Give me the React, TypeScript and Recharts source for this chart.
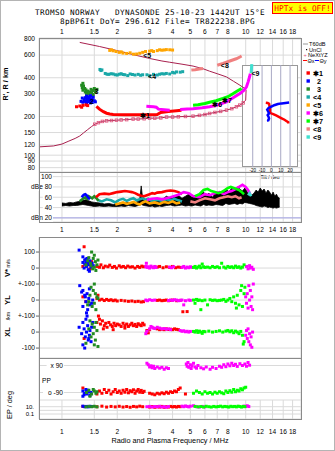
import { Area, CartesianGrid, ComposedChart, Line, ReferenceLine, Scatter, XAxis, YAxis } from "recharts";

type Pt = [number, number];

const freqTicks = [1, 1.5, 2, 3, 4, 5, 6, 7, 8, 10, 12, 14, 16, 18];
const heightTicks = [80, 90, 100, 120, 150, 200, 300, 400, 600, 800];
const dbTicks = [20, 40, 60, 80, 100];
const dbLabels: Record<string, string> = { "20": "dBn 20", "40": "40", "60": "60", "80": "dBe 80", "100": "100" };
const velTicks = [100, 0, -100, -200, -300, -400, -500];
const velLabels: Record<string, string> = { "100": "100", "0": "0", "-100": "+-100", "-200": "0", "-300": "+-100", "-400": "0", "-500": "-100" };
const ppTicks = [90, -90];
const ppLabels: Record<string, string> = { "90": "x 90", "-90": "o -90" };
const epTicks = [10, 1, 0.1];
const epLabels: Record<string, string> = { "10": "10.", "1": "", "0.1": "0.1" };
const tiltTicks = [-20, -10, 0, 10, 20];

const col = {
  red: "#ff0000", blue: "#0000ff", green: "#228b22", teal: "#1aa8a8", orange: "#ffa500",
  magenta: "#ff00ff", lime: "#00ff00", salmon: "#f08080", cyan: "#40e0d0", maroon: "#a8204e",
};

// ---- height panel (f MHz, h km)
const upperModel: Pt[] = [[1.25, 753], [1.6, 700], [2.0, 650], [2.5, 600], [3.0, 565], [3.5, 540], [3.86, 528], [4.5, 510], [5.17, 493], [5.86, 470], [6.36, 450], [7.0, 430], [7.86, 406], [8.6, 375], [9.3, 350], [9.88, 330], [10.05, 320]];
const profile: Pt[] = [[0.75, 116], [0.9, 118], [1.0, 122], [1.08, 128], [1.18, 135], [1.25, 141], [1.31, 149], [1.38, 158], [1.45, 167], [1.51, 174], [1.58, 179], [1.66, 183], [1.75, 185], [1.86, 186], [1.98, 187], [2.1, 188], [2.25, 189], [2.44, 191], [2.6, 191], [2.8, 192], [3.0, 194], [3.2, 194], [3.45, 195], [3.71, 198], [4.0, 198], [4.3, 199], [4.7, 200], [5.17, 201], [5.6, 204], [6.0, 207], [6.36, 211], [6.8, 215], [7.3, 219], [7.86, 224], [8.4, 230], [8.9, 238], [9.3, 245], [9.7, 255], [10.0, 268], [10.05, 320]];
const trace1: Pt[] = [[1.54, 240], [1.6, 228], [1.68, 218], [1.75, 212], [1.82, 209], [1.9, 207], [2.2, 206], [2.6, 206], [3.0, 206], [3.3, 207], [3.45, 215], [3.8, 219], [4.2, 222], [4.47, 224]];
const trace1Early: Pt[] = [[1.2, 238], [1.25, 241], [1.3, 244], [1.35, 246], [1.38, 243], [1.28, 236]];
const trace2: Pt[] = [[1.27, 262], [1.3, 258], [1.32, 270], [1.34, 280], [1.35, 265], [1.36, 256], [1.37, 274], [1.38, 285], [1.39, 268], [1.4, 260], [1.41, 278], [1.42, 270], [1.43, 290], [1.44, 262], [1.45, 275], [1.46, 257], [1.47, 268], [1.48, 282], [1.33, 262], [1.36, 288], [1.4, 272], [1.5, 265], [1.43, 255], [1.29, 278], [1.52, 260]];
const trace3: Pt[] = [[1.28, 350], [1.29, 335], [1.3, 320], [1.31, 345], [1.33, 330], [1.34, 310], [1.35, 322], [1.37, 305], [1.38, 315], [1.4, 300], [1.42, 310], [1.44, 325], [1.45, 305], [1.47, 318], [1.5, 330], [1.52, 312], [1.55, 325], [1.3, 362], [1.36, 298], [1.48, 296]];
const trace4: Pt[] = [[1.61, 464], [1.63, 455], [1.65, 460], [1.72, 432], [1.76, 426], [1.8, 425], [1.85, 430], [1.9, 428], [1.95, 422], [2.0, 420], [2.05, 426], [2.1, 430], [2.15, 424], [2.2, 422], [2.28, 416], [2.35, 428], [2.42, 424], [2.5, 420], [2.6, 425], [2.68, 418], [2.75, 422], [2.9, 422], [3.0, 415], [3.15, 425], [3.3, 420], [3.4, 426], [3.5, 430], [3.6, 428], [3.7, 432], [3.86, 428], [4.0, 440], [4.1, 436], [4.2, 444], [4.4, 442], [4.54, 446]];
const trace5: Pt[] = [[1.82, 653], [1.86, 660], [1.9, 648], [1.97, 640], [2.05, 630], [2.1, 636], [2.15, 622], [2.25, 618], [2.35, 625], [2.45, 610], [2.55, 612], [2.65, 620], [2.75, 630], [2.85, 640], [3.0, 644], [3.08, 650], [3.15, 640], [3.3, 650], [3.4, 660], [3.5, 655], [3.6, 658], [3.7, 662], [3.86, 660], [4.0, 657]];
const trace6a: Pt[] = [[2.88, 240], [3.0, 239], [3.15, 238], [3.26, 236], [3.35, 228], [3.6, 226], [3.86, 224]];
const trace6b: Pt[] = [[4.4, 227], [4.8, 229], [5.17, 230], [5.8, 234], [6.36, 238], [7.0, 245], [7.86, 260], [8.5, 278], [9.3, 302], [9.8, 320], [10.1, 340], [10.3, 370], [10.5, 407], [10.6, 430]];
const trace7: Pt[] = [[5.17, 245], [5.5, 247], [6.0, 252], [6.36, 258], [6.9, 265], [7.52, 276], [8.0, 285], [8.52, 300], [9.0, 315], [9.5, 330]];
const trace8a: Pt[] = [[5.06, 459], [5.3, 462], [5.6, 468], [5.86, 472]];
const trace8b: Pt[] = [[7.0, 500], [7.52, 517], [8.2, 540], [8.88, 562], [9.3, 580], [9.5, 590]];
const trace9: Pt[] = [[10.7, 435], [10.72, 450], [10.75, 470], [10.77, 490], [10.8, 510]];
const traceNames = ["✱1", "2", "3", "<4", "<5", "✱6", "✱7", "<8", "<9"];
const traceLabelAt: Pt[] = [[2.83, 205], [1.45, 260], [1.54, 315], [3.1, 410], [2.91, 600], [7.0, 250], [7.9, 265], [7.7, 495], [11.3, 430]];

// ---- tilt inset (deg, km)
const thetaX: Pt[] = [[-6, 255], [-4, 254], [-2.5, 250], [-2, 240], [-1.5, 228], [-1.5, 218], [-1, 212], [2, 208], [5, 203], [8, 198], [11, 193], [14, 188], [16, 184], [18, 180], [18, 176]];
const thetaY: Pt[] = [[19, 256], [15, 254], [11, 252], [7, 249], [3, 244], [0, 238], [-3, 232], [-4.5, 225], [-3.5, 218], [-2.5, 211], [-4, 204], [-3, 198], [-2.5, 192], [-3.5, 186], [-3, 182]];

// ---- amplitude panel (f, dB); noise as [f, low, high]
const noise: [number, number, number][] = [[1.0, 43, 49], [1.05, 44, 48], [1.1, 43, 50], [1.15, 44, 49], [1.2, 44, 51], [1.25, 45, 52], [1.3, 46, 54], [1.35, 45, 55], [1.4, 44, 53], [1.45, 43, 51], [1.5, 42, 50], [1.6, 43, 49], [1.7, 42, 47], [1.8, 43, 48], [1.9, 42, 46], [2.0, 42, 48], [2.1, 43, 47], [2.2, 42, 49], [2.3, 44, 50], [2.4, 43, 48], [2.5, 42, 50], [2.6, 44, 52], [2.66, 45, 60], [2.7, 46, 82], [2.74, 45, 62], [2.8, 44, 56], [2.9, 43, 52], [3.0, 42, 55], [3.1, 43, 50], [3.2, 41, 54], [3.3, 42, 52], [3.4, 43, 56], [3.5, 42, 55], [3.7, 44, 62], [3.9, 45, 58], [4.1, 43, 60], [4.3, 44, 64], [4.5, 45, 58], [4.7, 43, 62], [4.9, 44, 66], [5.1, 43, 60], [5.3, 45, 64], [5.5, 44, 58], [5.7, 43, 66], [5.9, 46, 70], [6.1, 44, 62], [6.3, 45, 68], [6.6, 44, 60], [6.9, 46, 70], [7.2, 45, 66], [7.5, 44, 72], [7.8, 48, 76], [8.1, 46, 70], [8.4, 47, 78], [8.7, 48, 74], [9.0, 46, 80], [9.3, 48, 76], [9.6, 47, 72], [9.9, 50, 78], [10.2, 49, 70], [10.5, 48, 66], [10.8, 47, 64], [11.1, 46, 68], [11.4, 44, 74], [11.7, 43, 70], [12.0, 42, 78], [12.3, 41, 72], [12.6, 43, 76], [12.9, 42, 68], [13.2, 40, 74], [13.5, 41, 70], [13.8, 40, 64], [14.1, 39, 70], [14.4, 40, 62], [14.7, 39, 66], [15.0, 40, 60], [15.3, 41, 58]];
const dbRed: Pt[] = [[1.53, 60], [1.6, 66], [1.7, 67], [1.8, 66], [1.9, 68], [2.0, 70], [2.1, 71], [2.2, 72], [2.3, 71], [2.4, 70], [2.5, 68], [2.6, 65], [2.7, 63], [2.8, 62], [2.9, 64], [3.0, 66], [3.1, 68], [3.2, 67], [3.3, 69], [3.5, 70], [3.7, 72], [3.9, 73], [4.1, 72], [4.3, 70], [4.5, 66]];
const dbBlue: Pt[] = [[1.28, 60], [1.3, 63], [1.32, 65], [1.34, 66], [1.36, 64], [1.38, 61], [1.4, 58], [1.42, 56]];
const dbGreen: Pt[] = [[1.25, 52], [1.28, 55], [1.31, 58], [1.34, 60], [1.37, 57], [1.4, 62], [1.43, 60], [1.46, 58], [1.5, 62], [1.53, 59], [1.56, 56], [1.58, 53]];
const dbTeal: Pt[] = [[1.55, 55], [1.65, 52], [1.75, 56], [1.85, 54], [1.95, 50], [2.05, 55], [2.15, 57], [2.25, 53], [2.35, 56], [2.45, 58], [2.55, 54], [2.65, 56], [2.75, 58], [2.85, 55], [2.95, 57], [3.1, 52], [3.3, 55], [3.5, 53], [3.7, 56], [3.9, 54], [4.1, 57], [4.3, 54], [4.5, 52]];
const dbOrange: Pt[] = [[1.95, 46], [2.05, 48], [2.15, 50], [2.25, 47], [2.35, 49], [2.45, 51], [2.55, 48], [2.65, 46], [2.75, 50], [2.85, 52], [3.0, 48], [3.2, 50], [3.4, 47], [3.6, 51], [3.8, 49], [4.0, 52], [4.2, 48], [4.4, 50]];
const dbMagenta: Pt[] = [[2.9, 55], [3.1, 57], [3.3, 58], [3.5, 56], [3.7, 58], [3.9, 60], [4.3, 65], [4.6, 70], [4.9, 68], [5.2, 62], [5.6, 60], [6.0, 66], [6.4, 64], [6.8, 68], [7.2, 70], [7.6, 66], [8.0, 70], [8.4, 72], [8.8, 76], [9.2, 80], [9.6, 84], [10.0, 80], [10.3, 74], [10.6, 66]];
const dbLime: Pt[] = [[5.3, 62], [5.6, 66], [5.9, 74], [6.2, 76], [6.5, 72], [6.8, 70], [7.1, 68], [7.4, 70], [7.7, 74], [8.0, 78], [8.3, 80], [8.6, 78], [8.9, 76], [9.2, 74], [9.5, 70], [9.8, 66]];
const dbSalmon: Pt[] = [[5.0, 52], [5.3, 50], [5.6, 54], [6.0, 58], [6.4, 56], [6.8, 54], [7.2, 58], [7.6, 60], [8.0, 62], [8.4, 60], [8.8, 62], [9.2, 58], [9.5, 60]];
const dbCyan: Pt[] = [[10.3, 64], [10.5, 68], [10.7, 62]];

// ---- V* (m/s)
const vBlue: Pt[] = [[1.24, 112], [1.3, 70], [1.33, 50], [1.35, 40], [1.37, 60], [1.38, 30], [1.4, 20], [1.42, 45], [1.36, 10], [1.33, 25], [1.44, 5], [1.39, -10], [1.32, 0], [1.46, 30], [1.41, -20], [1.35, 55], [1.48, 15], [1.3, 35]];
const vGreen: Pt[] = [[1.45, 100], [1.5, 80], [1.48, 60], [1.52, 40], [1.43, 30], [1.55, 20], [1.4, 65], [1.47, -5], [1.5, 5], [1.38, 45], [1.53, -15], [1.44, 15], [1.57, 50], [1.35, 20]];
const vRed: Pt[] = [[1.32, 133], [1.37, 25], [1.42, -5], [1.3, 10], [1.45, 40], [1.55, 10], [1.6, 5], [1.63, 20], [1.68, 2], [1.72, 12], [1.78, 8], [1.82, 18], [1.88, 4], [1.93, 10], [1.98, 0], [2.05, 14], [2.1, 6], [2.16, 10], [2.22, 2], [2.28, 12], [2.35, 6], [2.42, 8], [2.5, 0], [2.58, 10], [2.65, 4], [2.72, 12], [2.78, 8], [3.3, 6], [3.4, 10], [3.55, 2], [3.7, 8], [3.85, 4], [4.0, 10], [4.15, 2], [4.3, 6], [4.45, 4]];
const vMagenta: Pt[] = [[2.86, 10], [2.9, 4], [2.95, 8], [3.0, 0], [3.05, 12], [3.1, 6], [3.15, 2], [3.2, 10], [3.25, 4], [2.88, 30], [3.85, 6], [3.95, 2], [4.05, 8], [4.5, 4], [4.6, 10], [4.7, 0], [4.8, 6], [4.9, 2], [5.0, 8], [5.1, 4], [10.1, 10], [10.3, -5], [10.5, 15], [10.6, 0], [10.8, 5], [11.0, -8]];
const vLime: Pt[] = [[5.2, 4], [5.3, 10], [5.4, 0], [5.5, 6], [5.6, 12], [5.7, 2], [5.8, 25], [5.9, 8], [6.0, 4], [6.2, 6], [6.4, 2], [6.6, 10], [6.8, 4], [7.0, 8], [7.2, 2], [7.4, 30], [7.6, 6], [7.8, 0], [8.0, 10], [8.2, 4], [8.4, 8], [8.6, 2], [8.8, 12], [9.0, 4], [9.2, 8], [9.4, 0], [9.6, 6], [9.8, 20]];

// ---- YL (/km)
const ylBlue: Pt[] = [[1.25, 90], [1.3, 60], [1.33, 30], [1.35, -10], [1.37, 40], [1.4, 10], [1.42, -30], [1.38, -60], [1.34, 20], [1.45, -20], [1.3, -40], [1.28, 50], [1.41, 70], [1.36, -80], [1.47, 0]];
const ylGreen: Pt[] = [[1.44, 80], [1.5, 100], [1.48, 60], [1.52, 40], [1.46, -40], [1.55, 20], [1.4, -10], [1.53, -60], [1.5, -20], [1.42, 30], [1.57, 10], [1.38, -30]];
const ylRed: Pt[] = [[1.55, 10], [1.6, 0], [1.65, 5], [1.7, -3], [1.75, 4], [1.8, -2], [1.85, 2], [1.9, -4], [1.95, 0], [2.0, -6], [2.1, -2], [2.2, -5], [2.3, -8], [2.4, -6], [2.5, -10], [2.6, -8], [2.7, -12], [2.78, -10], [3.3, -2], [3.4, 0], [3.5, -4], [3.6, -2], [3.7, 0], [3.8, -4], [3.9, -2], [4.0, 0], [4.2, -4], [4.4, -2], [1.57, 30], [1.35, -10], [1.3, 20], [4.55, -73], [4.8, -72]];
const ylMagenta: Pt[] = [[2.86, 0], [2.92, -4], [3.0, 2], [3.1, -2], [3.2, 0], [3.8, -3], [3.9, 0], [4.0, -2], [4.1, 2], [4.2, 0], [4.3, -4], [4.4, -2], [4.5, 0], [4.6, -30], [4.7, -4], [4.9, 0], [5.0, -2], [10.0, 20], [10.1, -20], [10.2, 40], [10.3, -50], [10.4, 90], [10.5, 0], [10.6, 60], [10.7, -40], [10.8, 20], [10.9, -60], [11.0, 100]];
const ylLime: Pt[] = [[5.2, 0], [5.3, -20], [5.4, 4], [5.5, -2], [5.6, 0], [5.8, -4], [6.0, 0], [6.2, -30], [6.4, 2], [6.6, -2], [6.8, 0], [7.0, -4], [7.2, -2], [7.4, 0], [7.6, 4], [7.8, -8], [8.0, 0], [8.2, 10], [8.4, -10], [8.6, 20], [8.8, -20], [9.0, 30], [9.2, -30], [9.4, 60], [9.6, -40], [9.8, 40], [9.9, 80], [9.5, 90], [5.7, -60], [8.9, -50]];

// ---- XL (/km)
const xlBlue: Pt[] = [[1.24, 30], [1.28, -10], [1.3, 60], [1.32, 20], [1.34, -30], [1.35, 80], [1.36, 0], [1.38, 40], [1.4, -40], [1.42, 10], [1.44, -60], [1.3, -80], [1.37, 100], [1.45, 30], [1.33, -100], [1.41, -20], [1.47, 60], [1.39, -50]];
const xlGreen: Pt[] = [[1.35, -70], [1.4, 20], [1.44, -30], [1.46, 50], [1.48, -10], [1.5, 30], [1.52, -50], [1.55, 10], [1.57, -90], [1.42, 70], [1.5, -80], [1.53, 60]];
const xlRed: Pt[] = [[1.32, -40], [1.55, 60], [1.58, 100], [1.6, 80], [1.62, 50], [1.66, 70], [1.7, 40], [1.73, 55], [1.76, 30], [1.8, 60], [1.84, 45], [1.88, 35], [1.92, 55], [1.96, 40], [2.0, 50], [2.05, 45], [2.1, 35], [2.15, 55], [2.2, 40], [2.25, 50], [2.3, 35], [2.35, 45], [2.4, 55], [2.45, 40], [2.5, 48], [2.55, 35], [2.6, 52], [2.65, 45], [2.7, 40], [2.75, 55], [2.8, 45], [1.68, 20], [1.9, 15], [2.2, 25], [3.3, 20], [3.4, 15], [3.5, 18], [3.6, 15], [3.7, 20], [3.8, 16], [3.9, 18], [4.0, 15], [4.1, 20], [4.2, 17], [4.3, 15], [2.9, 10], [2.95, -5], [3.0, 15]];
const xlMagenta: Pt[] = [[2.86, -10], [2.9, 5], [3.0, 20], [3.05, 35], [3.1, 30], [3.15, 25], [3.2, 22], [3.3, 30], [3.4, 25], [3.5, 20], [3.6, 22], [3.7, 18], [3.8, 20], [3.9, 15], [4.4, 10], [4.5, 5], [4.6, 8], [4.7, 2], [4.8, 5], [4.9, 0], [5.0, 4], [10.0, -20], [10.1, 10], [10.2, -40], [10.3, 20], [10.4, -60], [10.5, -10], [10.6, -80], [10.7, -30], [10.8, -95], [10.9, 0]];
const xlLime: Pt[] = [[5.2, 4], [5.3, 0], [5.4, 8], [5.5, -2], [5.6, 6], [5.7, 0], [5.8, -8], [5.9, 4], [6.0, 2], [6.3, 6], [6.6, 0], [6.9, 4], [7.2, 8], [7.5, 0], [7.8, 6], [8.0, 10], [8.2, 2], [8.4, 8], [8.6, -4], [8.8, 6], [9.0, 0], [9.2, -10], [9.4, 4], [9.6, -20], [9.8, -60], [9.7, -75]];

// ---- PP (deg)
const ppMagenta: Pt[] = [[2.9, 105], [2.95, 95], [3.0, 80], [3.05, 88], [3.1, 75], [3.15, 85], [3.2, 70], [3.3, 80], [3.4, 72], [3.5, 78], [3.6, 65], [3.7, 75], [3.8, 70], [4.75, 100], [4.8, 85], [4.85, 110], [4.9, 78], [5.0, 95], [5.05, 70], [5.1, 88], [5.2, 105], [5.3, 80], [5.4, 72], [5.5, 90], [5.7, 75], [5.9, 68], [6.1, 80], [6.4, 65], [6.6, 78], [6.9, 70], [7.2, 85], [7.4, 78], [7.6, 95], [7.8, 82], [8.0, 100], [8.2, 88], [8.4, 105], [8.6, 90], [8.8, 98], [9.0, 84], [9.3, 102], [9.6, 90], [9.9, 100], [10.1, 85], [10.3, 110], [10.5, 92]];
const ppRed: Pt[] = [[1.3, -60], [1.55, -100], [1.6, -80], [1.65, -95], [1.7, -70], [1.75, -90], [1.8, -75], [1.85, -100], [1.9, -85], [1.95, -70], [2.0, -90], [2.05, -80], [2.1, -95], [2.15, -75], [2.2, -88], [2.25, -70], [2.3, -92], [2.35, -78], [2.4, -85], [2.45, -72], [2.5, -95], [2.55, -80], [2.6, -70], [2.65, -88], [2.7, -76], [2.75, -90], [2.8, -82], [3.0, -95], [3.1, -100], [3.2, -105], [3.3, -95], [3.4, -100], [3.5, -92], [3.6, -98], [3.7, -88], [3.8, -95], [3.9, -85], [4.0, -90], [4.1, -80], [4.2, -85], [4.3, -70], [4.4, -60], [4.7, -100]];
const ppBlue: Pt[] = [[1.3, -80], [1.33, -95], [1.35, -70], [1.37, -100], [1.4, -85], [1.42, -110], [1.32, -105], [1.38, -75], [1.44, -90], [1.3, -115]];
const ppGreen: Pt[] = [[1.36, -90], [1.4, -75], [1.45, -100], [1.5, -80], [1.53, -95], [1.48, -70], [1.55, -85], [1.42, -115]];
const ppLime: Pt[] = [[5.2, -95], [5.4, -80], [5.6, -90], [5.8, -100], [6.0, -85], [6.2, -95], [6.4, -90], [6.6, -100], [6.8, -88], [7.0, -95], [7.2, -85], [7.4, -92], [7.6, -98], [7.8, -80], [8.0, -90], [8.2, -78], [8.4, -88], [8.6, -70], [8.8, -85], [9.0, -75], [9.2, -80], [9.4, -65], [9.6, -72], [9.8, -60], [10.0, -55]];

// ---- EP (deg)
const epRed: Pt[] = [[1.3, 12], [1.55, 10], [1.65, 14], [1.75, 8], [1.85, 12], [1.95, 9], [2.05, 13], [2.15, 8], [2.25, 11], [2.35, 7], [2.45, 12], [2.55, 9], [2.65, 14], [2.75, 10], [3.0, 8], [3.1, 11], [3.2, 7], [3.3, 10], [3.4, 8], [3.5, 12], [3.6, 7], [3.7, 10], [3.8, 8], [3.9, 12], [4.0, 9], [4.1, 11], [4.2, 8], [4.3, 12], [4.4, 10]];
const epBlue: Pt[] = [[1.3, 14], [1.33, 10], [1.36, 12], [1.39, 9], [1.42, 13], [1.45, 11]];
const epGreen: Pt[] = [[1.35, 9], [1.4, 12], [1.45, 10], [1.5, 13], [1.55, 9]];
const epMagenta: Pt[] = [[2.9, 10], [3.0, 12], [3.1, 8], [3.2, 11], [3.3, 9], [3.4, 13], [3.5, 8], [3.6, 10], [3.7, 7], [3.8, 11], [4.5, 14], [4.6, 10], [4.7, 16], [4.8, 12], [4.9, 9], [5.0, 14], [5.2, 18], [5.4, 10], [5.6, 8], [5.8, 12], [6.0, 9], [9.8, 14], [10.0, 12], [10.2, 18], [10.4, 11]];
const epLime: Pt[] = [[5.3, 12], [5.5, 9], [5.7, 11], [5.9, 8], [6.1, 13], [6.3, 10], [6.5, 8], [6.7, 12], [6.9, 9], [7.1, 11], [7.3, 14], [7.5, 9], [7.7, 12], [7.9, 10], [8.1, 8], [8.3, 13], [8.5, 10], [8.7, 12], [8.9, 9], [9.1, 14], [9.3, 11], [9.5, 8], [9.7, 12], [9.9, 10]];

const legendColors = [col.red, col.blue, col.green, col.teal, col.orange, col.magenta, col.lime, col.salmon, col.cyan];

const pts = (a: Pt[], shift = 0) => a.map(([f, v]) => ({ f, v: v + shift }));
const FONT = "'Liberation Sans', Arial, sans-serif";
const MONO = "'DejaVu Sans Mono', monospace";
const GRID = "#dadada";
const tickStyle = { fontSize: 6.6, fill: "#000" };
const xBase = { dataKey: "f", type: "number" as const, scale: "log" as const, domain: [0.75, 20], allowDataOverflow: true, ticks: freqTicks, interval: 0 as const };
const hDomain = [74, 815];

const square = (fill: string, s = 3) => (p: any) =>
  p.cx == null ? <g /> : <rect x={p.cx - s / 2} y={p.cy - s / 2} width={s} height={s} fill={fill} />;

const insideTick = (labels: Record<string, string>, right: number) => (p: any) => {
  const t = labels[String(p.payload.value)] ?? "";
  const w = t.length * 3.6 + 2;
  return (
    <g>
      {t && <rect x={right - w} y={p.y - 4} width={w + 1} height={8} fill="#fff" />}
      <text x={right} y={p.y} dy={2.3} textAnchor="end" fontSize={6.6} fill="#000">{t}</text>
    </g>
  );
};

const dots = (series: [Pt[], string][], shift = 0) =>
  series.map(([d, c], i) => <Scatter key={i} data={pts(d, shift)} dataKey="v" shape={square(c)} isAnimationActive={false} />);

export default function App() {
  const labelData = traceLabelAt.map(([f, v], i) => ({ f, v, name: traceNames[i] }));
  return (
    <div style={{ position: "absolute", left: 0, top: 0, width: 335, height: 451, background: "#fff", fontFamily: FONT }}>
      {/* height panel: grid and axes */}
      <div style={{ position: "absolute", left: 0, top: 0 }}>
        <ComposedChart width={335} height={172} margin={{ top: 26, right: 34, bottom: 0, left: 0 }}>
          <CartesianGrid stroke={GRID} />
          <XAxis {...xBase} orientation="top" height={12} tickSize={2} tickMargin={1.6} tickLine={false} axisLine={false} tick={tickStyle} />
          <YAxis type="number" scale="log" domain={hDomain} allowDataOverflow ticks={heightTicks} interval={0} width={39} tickSize={3} tickMargin={1} axisLine={false} tickLine={false} tick={tickStyle} />
        </ComposedChart>
      </div>

      {/* tilt inset */}
      <div style={{ position: "absolute", left: 242, top: 65, width: 56, height: 102, background: "#fff", border: "1px solid #999", boxSizing: "border-box" }}>
        <div style={{ position: "absolute", left: -1, top: -1 }}>
          <ComposedChart width={56} height={114} margin={{ top: 0, right: 0, bottom: 0, left: 0 }}>
            <XAxis dataKey="t" type="number" domain={[-31.5, 28.5]} allowDataOverflow ticks={tiltTicks} interval={0} height={12} tickSize={1} tickMargin={0.5} tickLine={false} axisLine={false} tick={{ fontSize: 4.6, fill: "#000" }} label={{ value: "Tilt / deg", position: "insideBottom", offset: 0, fontSize: 5, fill: "#000" }} />
            <YAxis hide type="number" scale="log" domain={[80.7, 501]} allowDataOverflow />
            {tiltTicks.map((t) => <ReferenceLine key={t} x={t} stroke="#a8a8c4" />)}
            <Line data={thetaX.map(([t, h]) => ({ t, h }))} dataKey="h" stroke={col.red} strokeWidth={2.5} dot={false} isAnimationActive={false} />
            <Line data={thetaY.map(([t, h]) => ({ t, h }))} dataKey="h" stroke={col.blue} strokeWidth={2.5} dot={false} isAnimationActive={false} />
          </ComposedChart>
        </div>
      </div>

      {/* height panel: traces */}
      <div style={{ position: "absolute", left: 0, top: 0 }}>
        <ComposedChart width={335} height={172} margin={{ top: 38, right: 34, bottom: 0, left: 39 }}>
          <XAxis {...xBase} hide />
          <YAxis hide type="number" scale="log" domain={hDomain} allowDataOverflow />
          <Line data={pts(upperModel)} dataKey="v" stroke={col.maroon} strokeWidth={1} dot={false} isAnimationActive={false} />
          <Line data={pts(profile)} dataKey="v" stroke={col.maroon} strokeWidth={1} isAnimationActive={false}
            dot={(p: any) => p.payload.f >= 1.5 && p.payload.f < 10
              ? <rect key={p.index} x={p.cx - 1.3} y={p.cy - 1.3} width={2.6} height={2.6} fill="none" stroke="#e0507a" strokeWidth={0.8} />
              : <g key={p.index} />} />
          {dots([[trace4, col.teal], [trace5, col.orange], [trace3, col.green], [trace2, col.blue], [trace1Early, col.red]])}
          <Line data={pts(trace1)} dataKey="v" stroke={col.red} strokeWidth={3} dot={false} isAnimationActive={false} />
          <Line data={pts(trace6a)} dataKey="v" stroke={col.magenta} strokeWidth={3} dot={false} isAnimationActive={false} />
          <Line data={pts(trace6b)} dataKey="v" stroke={col.magenta} strokeWidth={3} dot={false} isAnimationActive={false} />
          <Line data={pts(trace7)} dataKey="v" stroke={col.lime} strokeWidth={3} dot={false} isAnimationActive={false} />
          <Line data={pts(trace8a)} dataKey="v" stroke={col.salmon} strokeWidth={3} dot={false} isAnimationActive={false} />
          <Line data={pts(trace8b)} dataKey="v" stroke={col.salmon} strokeWidth={3} dot={false} isAnimationActive={false} />
          <Line data={pts(trace9)} dataKey="v" stroke={col.cyan} strokeWidth={3} dot={false} isAnimationActive={false} />
          <Scatter data={labelData} dataKey="v" isAnimationActive={false}
            shape={(p: any) => <text x={p.cx} y={p.cy} dy={2.6} textAnchor="middle" fontSize={7} fontWeight="bold" fill="#000">{p.payload.name}</text>} />
        </ComposedChart>
      </div>

      {/* amplitude panel */}
      <div style={{ position: "absolute", left: 0, top: 172 }}>
        <ComposedChart width={335} height={64} margin={{ top: 0, right: 34, bottom: 0, left: 0 }}>
          <CartesianGrid stroke={GRID} />
          <XAxis {...xBase} height={14} tickSize={2} tickMargin={3.6} tickLine={false} axisLine={false} tick={tickStyle} />
          <YAxis type="number" domain={[12, 109]} allowDataOverflow ticks={dbTicks} interval={0} width={39} tickLine={false} axisLine={false} tick={insideTick(dbLabels, 52)} />
          <ReferenceLine y={20} stroke="#a4a4e8" />
          <Area data={noise.map(([f, lo, hi]) => ({ f, r: [lo, hi] }))} dataKey="r" type="linear" stroke="#000" strokeWidth={0.8} fill="#000" fillOpacity={1} isAnimationActive={false} />
          {([[dbTeal, col.teal], [dbOrange, col.orange], [dbGreen, col.green], [dbBlue, col.blue], [dbSalmon, col.salmon], [dbRed, col.red], [dbMagenta, col.magenta], [dbLime, col.lime], [dbCyan, col.cyan]] as [Pt[], string][]).map(([d, c], i) => (
            <Line key={i} data={pts(d)} dataKey="v" stroke={c} strokeWidth={2.6} dot={false} isAnimationActive={false} />
          ))}
        </ComposedChart>
      </div>

      {/* V*, YL, XL */}
      <div style={{ position: "absolute", left: 0, top: 237 }}>
        <ComposedChart width={335} height={121} margin={{ top: 0, right: 34, bottom: 0, left: 0 }}>
          <CartesianGrid stroke={GRID} />
          <XAxis {...xBase} height={0} tick={false} tickLine={false} axisLine={false} />
          <YAxis type="number" domain={[-562, 194]} allowDataOverflow ticks={velTicks} interval={0} width={39} tickSize={3} tickMargin={1} axisLine={false} tickLine={{ stroke: "#666" }} tick={tickStyle} tickFormatter={(v: number) => velLabels[String(v)]} />
          {dots([[vRed, col.red], [vMagenta, col.magenta], [vLime, col.lime], [vBlue, col.blue], [vGreen, col.green]])}
          {dots([[ylRed, col.red], [ylMagenta, col.magenta], [ylLime, col.lime], [ylBlue, col.blue], [ylGreen, col.green]], -200)}
          {dots([[xlRed, col.red], [xlMagenta, col.magenta], [xlLime, col.lime], [xlBlue, col.blue], [xlGreen, col.green]], -400)}
        </ComposedChart>
      </div>

      {/* PP */}
      <div style={{ position: "absolute", left: 0, top: 358 }}>
        <ComposedChart width={335} height={42} margin={{ top: 0, right: 34, bottom: 0, left: 0 }}>
          <CartesianGrid stroke={GRID} />
          <XAxis {...xBase} height={0} tick={false} tickLine={false} axisLine={false} />
          <YAxis type="number" domain={[-140, 140]} allowDataOverflow ticks={ppTicks} interval={0} width={39} tickLine={false} axisLine={false} tick={insideTick(ppLabels, 63)} />
          {dots([[ppRed, col.red], [ppMagenta, col.magenta], [ppLime, col.lime], [ppBlue, col.blue], [ppGreen, col.green]])}
        </ComposedChart>
      </div>

      {/* EP */}
      <div style={{ position: "absolute", left: 0, top: 400 }}>
        <ComposedChart width={335} height={37} margin={{ top: 0, right: 34, bottom: 0, left: 0 }}>
          <CartesianGrid stroke={GRID} />
          <XAxis {...xBase} height={18} tickSize={3} tickMargin={7.6} tickLine={false} axisLine={false} tick={tickStyle} />
          <YAxis type="number" scale="log" domain={[0.0043, 686]} allowDataOverflow ticks={epTicks} interval={0} width={39} tickSize={3} tickMargin={2} tickLine={false} axisLine={false} tick={{ fontSize: 6, fill: "#000" }} tickFormatter={(v: number) => epLabels[String(v)]} />
          {dots([[epRed, col.red], [epMagenta, col.magenta], [epLime, col.lime], [epBlue, col.blue], [epGreen, col.green]])}
        </ComposedChart>
      </div>

      {/* frames, titles, legend */}
      <svg width={335} height={451} style={{ position: "absolute", left: 0, top: 0, pointerEvents: "none" }}>
        <rect x={0.5} y={0.5} width={334} height={450} fill="none" stroke="#b4b4b4" />
        <g fill="none" stroke="#8a8a8a">
          <rect x={39.5} y={38.5} width={262} height={134} />
          <rect x={39.5} y={172.5} width={262} height={50} />
          <rect x={39.5} y={237.5} width={262} height={182} />
          <line x1={39.5} x2={301.5} y1={358.5} y2={358.5} />
        </g>
        <text x={35} y={14.5} fontFamily={MONO} fontSize={7.7} letterSpacing={0.37} style={{ whiteSpace: "pre" }}>TROMSO NORWAY   DYNASONDE 25-10-23 1442UT 15°E</text>
        <text x={60} y={23.6} fontFamily={MONO} fontSize={7.7} letterSpacing={0.37} style={{ whiteSpace: "pre" }}>8pBP6It DoY= 296.612 File= TR822238.BPG</text>
        <rect x={272.5} y={2.5} width={60} height={11} fill="#ffff00" stroke="#ff0000" />
        <text x={302.5} y={10.8} textAnchor="middle" fill="#ff0000" fontFamily={MONO} fontSize={7.8}>HPTx is OFF!</text>

        <g fontSize={5.6} fill="#000">
          <line x1={303} x2={308} y1={44} y2={44} stroke="#999" />
          <text x={309} y={46}>T60dB</text>
          <rect x={306} y={49} width={1.2} height={1.2} fill="#000" />
          <text x={309} y={51.5}>UnCl</text>
          <text x={303.5} y={57.3} fill="#e0507a">+</text>
          <text x={308} y={57}>NeXtYZ</text>
          <line x1={303} x2={307} y1={60.5} y2={60.5} stroke={col.red} />
          <text x={307.5} y={62.6}>Θx</text>
          <line x1={315} x2={319} y1={60.5} y2={60.5} stroke={col.blue} />
          <text x={319.5} y={62.6}>Θy</text>
          {traceNames.map((n, i) => (
            <g key={n}>
              <rect x={306.5} y={71.3 + i * 8} width={3.4} height={3.4} fill={legendColors[i]} />
              <text x={n.length === 1 ? 317 : 313} y={76 + i * 8} fontWeight="bold" fontSize={7.2}>{n}</text>
            </g>
          ))}
        </g>

        <g fontSize={7.3} fill="#000" fontWeight="bold">
          <text transform="translate(8,84) rotate(-90)" textAnchor="middle">R', R / km</text>
          <text transform="translate(10,268) rotate(-90)" textAnchor="middle"><tspan fontSize={7.5}>V*</tspan><tspan fontSize={5.2} dx={1.5} fontWeight="normal">m/s</tspan></text>
          <text transform="translate(10,300) rotate(-90)" textAnchor="middle">YL</text>
          <text transform="translate(10,316) rotate(-90)" textAnchor="middle" fontSize={5.2} fontWeight="normal">/km</text>
          <text transform="translate(10,332) rotate(-90)" textAnchor="middle">XL</text>
          <text transform="translate(12,405) rotate(-90)" textAnchor="middle" fontWeight="normal">EP / deg</text>
        </g>
        <text x={42} y={382.5} fontSize={6.6} fill="#000">PP</text>
        <text x={170} y={443} textAnchor="middle" fontSize={7.3} fill="#000">Radio and Plasma Frequency / MHz</text>
      </svg>
    </div>
  );
}
